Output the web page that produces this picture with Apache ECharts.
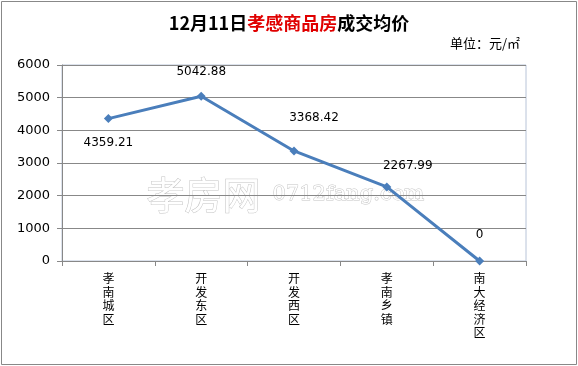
<!DOCTYPE html>
<html><head><meta charset="utf-8">
<script src="https://cdn.jsdelivr.net/npm/echarts@6/dist/echarts.min.js"></script>
<style>html,body{margin:0;padding:0;background:#fff}#c{width:578px;height:366px}</style>
</head><body><div id="c"></div>
<script>
var categories = ['孝南城区','开发东区','开发西区','孝南乡镇','南大经济区'];
var values = [4359.21, 5042.88, 3368.42, 2267.99, 0];
var yTicks = [0, 1000, 2000, 3000, 4000, 5000, 6000];
// label placement (style only)
var labelOffsets = [[0, 24], [0, -24], [20, -33], [21, -21], [0, -26]];

var chart = echarts.init(document.getElementById('c'));
var font = '"Noto Sans CJK SC", "DejaVu Sans", sans-serif';
chart.setOption({
  animation: false,
  backgroundColor: '#fff',
  title: {
    text: '{b|12月11日}{r|孝感商品房}{b|成交均价}',
    left: 'center', top: 9,
    textStyle: { rich: {
      b: { fontSize: 18, fontWeight: 'bold', color: '#000', fontFamily: font },
      r: { fontSize: 18, fontWeight: 'bold', color: '#e00000', fontFamily: font }
    } }
  },
  graphic: [
    { type: 'rect', shape: { x: 1.5, y: 1.5, width: 575, height: 363 }, style: { fill: 'none', stroke: '#888', lineWidth: 1 }, z: -1 },
    { type: 'text', left: 450, top: 37, style: { text: '单位：元/㎡', font: '13px ' + font, fill: '#000' } },
    { type: 'text', left: 146, top: 175, z: 0, style: { text: '孝房网', font: '38px ' + font, fill: '#fff', stroke: '#c4c4c4', lineWidth: 1 } },
    { type: 'text', left: 272, top: 184, z: 0, style: { text: '0712fang.com', font: '21px "DejaVu Serif", serif', fill: '#fff', stroke: '#c4c4c4', lineWidth: 1 } }
  ],
  grid: { left: 62, right: 52, top: 65, bottom: 105, show: true, borderColor: '#b8c4d8', borderWidth: 1, z: 0 },
  xAxis: {
    type: 'category', data: categories, boundaryGap: true,
    axisLine: { lineStyle: { color: '#888', width: 1 } },
    axisTick: { show: true, length: 5, lineStyle: { color: '#888' } },
    axisLabel: { color: '#000', fontSize: 12, fontFamily: font, lineHeight: 13.5, margin: 11,
      formatter: function (v) { return v.split('').join('\n'); } }
  },
  yAxis: {
    type: 'value', min: 0, max: 6000, interval: 1000,
    axisLine: { show: true, lineStyle: { color: '#888', width: 1 } },
    axisTick: { show: true, length: 5, lineStyle: { color: '#888' } },
    splitLine: { lineStyle: { color: '#888', width: 1 } },
    axisLabel: { color: '#000', fontSize: 13, fontFamily: '"DejaVu Sans", sans-serif', margin: 12,
      formatter: function (v) { return yTicks.indexOf(v) >= 0 ? String(v) : ''; } }
  },
  series: [{
    type: 'line', z: 5,
    data: values.map(function (v, i) { return { value: v, label: { position: 'inside', offset: labelOffsets[i] } }; }),
    lineStyle: { color: '#4a7ebb', width: 3 },
    itemStyle: { color: '#4a7ebb' },
    symbol: 'diamond', symbolSize: 9,
    label: { show: true, color: '#000', fontSize: 12, fontFamily: '"DejaVu Sans", sans-serif',
      formatter: function (p) { return p.value === 0 ? '0' : p.value.toFixed(2); } }
  }]
});
</script></body></html>
